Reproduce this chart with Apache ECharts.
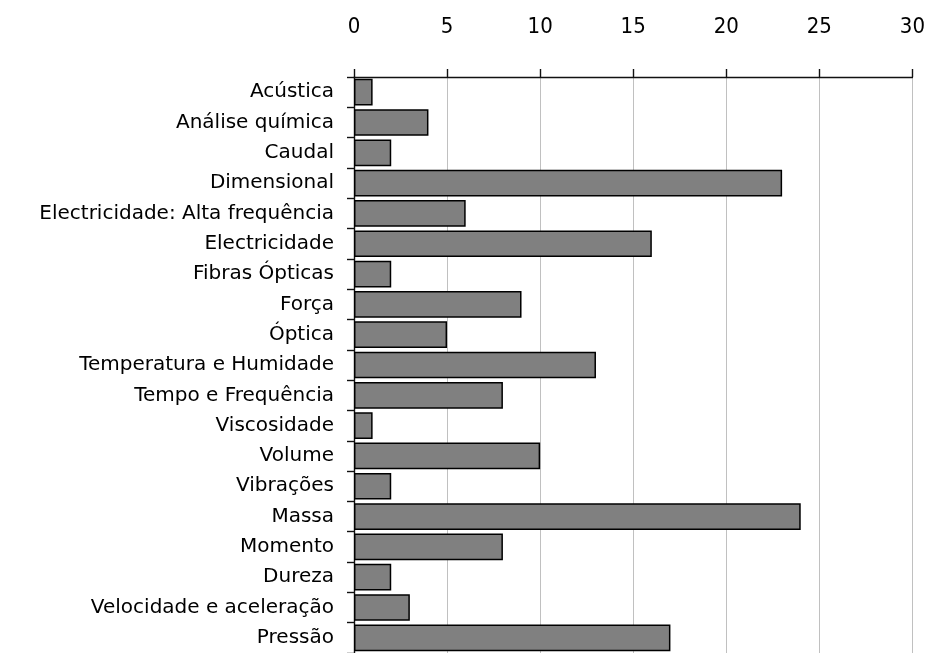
<!DOCTYPE html>
<html>
<head>
<meta charset="utf-8">
<script src="https://cdn.jsdelivr.net/npm/echarts@6/dist/echarts.min.js"></script>
<style>
html,body{margin:0;padding:0;background:#fff;}
#chart{width:928px;height:653px;}
</style>
</head>
<body>
<div id="chart"></div>
<script>
// categorias (de cima para baixo) e número de laboratórios
var categorias = ["Acústica","Análise química","Caudal","Dimensional","Electricidade: Alta frequência",
	"Electricidade","Fibras Ópticas","Força","Óptica","Temperatura e Humidade","Tempo e Frequência",
	"Viscosidade","Volume","Vibrações","Massa","Momento","Dureza","Velocidade e aceleração","Pressão"];
var valores = [1,4,2,23,6,16,2,9,5,13,8,1,10,2,24,8,2,3,17];
var eixoX = {min:0, max:30, interval:5};

var chart = echarts.init(document.getElementById("chart"));
var option = {
	animation:false,
	grid:{left:354, right:14, top:77, height:582, containLabel:false},
	xAxis:{
		type:"value",
		position:"top",
		min:eixoX.min, max:eixoX.max, interval:eixoX.interval,
		axisLine:{show:true, lineStyle:{color:"#111", width:1.4}},
		axisTick:{show:true, length:8, lineStyle:{color:"#111", width:1.4}},
		axisLabel:{color:"#000", fontFamily:"DejaVu Sans Condensed", fontSize:22, margin:39},
		splitLine:{show:true, lineStyle:{color:"#c0c0c0", width:1}}
	},
	yAxis:{
		type:"category",
		inverse:true,
		data:categorias,
		axisLine:{show:true, lineStyle:{color:"#111", width:1.4}},
		axisTick:{show:true, length:7, lineStyle:{color:"#111", width:1.4}},
		axisLabel:{color:"#000", fontFamily:"DejaVu Sans", fontSize:20, margin:20},
		splitLine:{show:false}
	},
	series:[{
		type:"bar",
		data:valores,
		barCategoryGap:"12%",
		itemStyle:{color:"#808080", borderColor:"#000", borderWidth:1.5}
	}]
};
chart.setOption(option);
</script>
</body>
</html>
